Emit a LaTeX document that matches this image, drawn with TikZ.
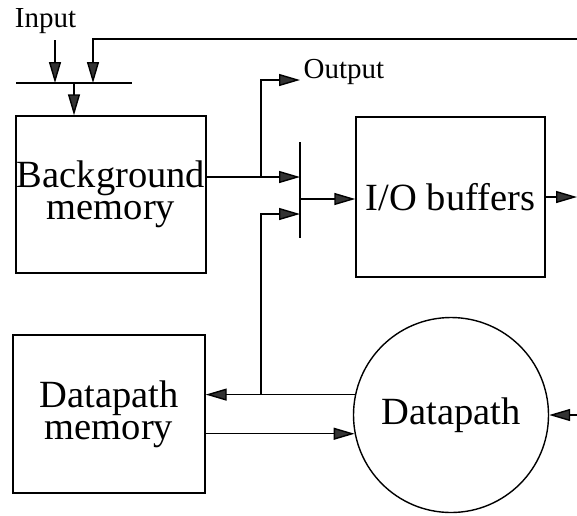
\documentclass[tikz,border=0pt]{standalone}
\usepackage{fontspec}
\setmainfont{Liberation Serif}
\usetikzlibrary{arrows.meta}
\begin{document}
\begin{tikzpicture}[x=1pt,y=-1pt,
  line width=1.4pt,
  arr/.style={-{Triangle[length=21pt,width=12pt,fill=black!80]}},
  blk/.style={draw, rectangle, inner sep=0pt, font=\fontsize{38.5}{32}\selectfont, align=center},
  lbl/.style={inner sep=0pt, font=\fontsize{29}{29}\selectfont}
]
\useasboundingbox (0,0) rectangle (577,515);
% blocks
\node[blk, minimum width=190pt, minimum height=157pt] (bg) at (111,194.5) {Background\\memory};
\node[blk, minimum width=189pt, minimum height=160pt] (io) at (450.5,197) {I/O buffers};
\node[blk, minimum width=192pt, minimum height=158pt] (dpm) at (109,414) {Datapath\\memory};
\node[draw, circle, minimum size=195pt, inner sep=0pt, font=\fontsize{38.5}{38}\selectfont] (dp) at (451,415) {Datapath};
% labels
\node[lbl, anchor=base] (inlbl) at (45.5,27) {Input};
\node[lbl, anchor=base west] (outlbl) at (303,78) {Output};
% input bar
\coordinate (barL) at (16,83);
\coordinate (barR) at (132,83);
\draw (barL) -- (barR);
\coordinate (inTop) at (55,40);
\draw[arr] (inTop) -- (inTop |- barL);
\coordinate (fbR) at (577,39);
\coordinate (fbC) at (93,39);
\draw[arr] (fbR) -- (fbC) -- (fbC |- barL);
\coordinate (barOut) at (74,83);
\draw[arr] (barOut) -- (barOut |- bg.north);
% mux bar
\coordinate (muxT) at (300,142);
\coordinate (muxB) at (300,238);
\draw (muxT) -- (muxB);
\coordinate (m1) at (300,177);
\coordinate (m2) at (300,214);
\coordinate (mo) at (300,199);
\draw[arr] (bg.east |- m1) -- (m1);
\coordinate (brA) at (261,177);
\coordinate (outEnd) at (300,80);
\draw[arr] (brA) -- (brA |- outEnd) -- (outEnd);
\draw[arr] (mo) -- (io.west |- mo);
% I/O output
\coordinate (ioOut) at (577,197);
\draw[arr] (io.east |- ioOut) -- (ioOut);
% datapath connections
\draw[arr] (dp.168) -- (dpm.east |- dp.168);
\coordinate (brB) at (261,395);
\draw[arr] (brB) -- (brB |- m2) -- (m2);
\draw[arr] (dpm.east |- dp.191) -- (dp.191);
\coordinate (dpIn) at (577,415);
\draw[arr] (dpIn) -- (dp.east);
\end{tikzpicture}
\end{document}
